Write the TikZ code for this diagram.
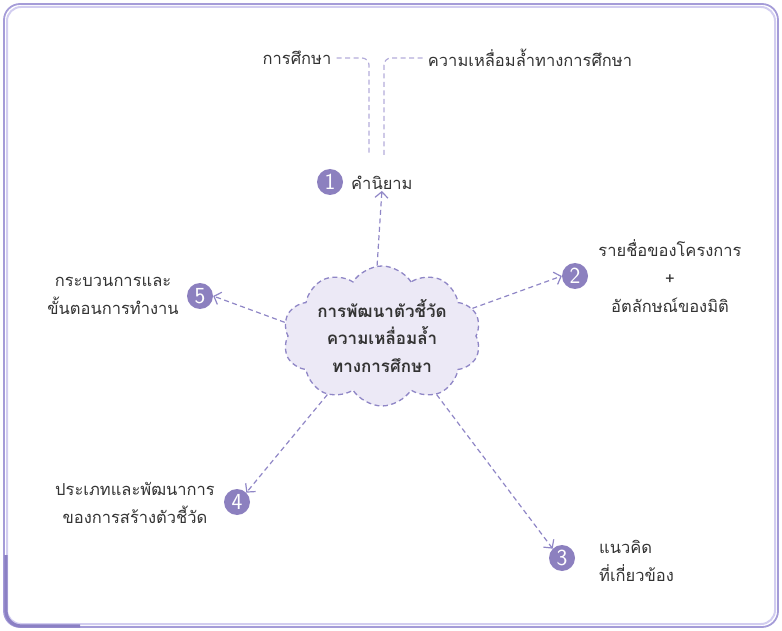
\documentclass[tikz,border=0pt]{standalone}
\usepackage{fontspec}
\newfontfamily\thaifont[Script=Thai]{Loma}
\usetikzlibrary{shapes.symbols,arrows.meta}
\definecolor{frameout}{HTML}{A59CD8}
\definecolor{framein}{HTML}{D2CDF0}
\definecolor{framedark}{HTML}{8B80C4}
\definecolor{numfill}{HTML}{8C80BF}
\definecolor{dashpurple}{HTML}{8F86C6}
\definecolor{guidepurple}{HTML}{B3ACDA}
\definecolor{cloudfill}{HTML}{ECE9F6}
\definecolor{textgray}{HTML}{333333}

\tikzset{
  num/.style={circle, fill=numfill, text=white, inner sep=0pt, minimum size=26pt,
    font=\sffamily\fontsize{23}{23}\selectfont},
  lbl/.style={text=textgray, font=\thaifont\fontsize{16.5}{28}\selectfont, align=center, inner sep=1pt},
  link/.style={draw=dashpurple, dash pattern=on 5pt off 3.5pt, line width=1.2pt,
    -{Straight Barb[length=6pt,width=13pt]}},
  guide/.style={draw=guidepurple, dash pattern=on 5pt off 3.5pt, line width=1.2pt, rounded corners=7pt}
}

\begin{document}
\begin{tikzpicture}[x=1pt, y=-1pt]
\useasboundingbox (0,0) rectangle (782,631);
% frame
\draw[frameout, line width=1.8pt, rounded corners=16pt] (4,4) rectangle (778,627);
\draw[framein, line width=2pt, rounded corners=14pt] (7,7) rectangle (775,624);
\draw[framedark, line width=3.2pt, rounded corners=15pt] (6,555) -- (6,626) -- (80,626);

% centre
\node[cloud, cloud puffs=10, cloud puff arc=115, aspect=1.5, draw=dashpurple,
  dash pattern=on 5pt off 3.5pt, line width=1.3pt, fill=cloudfill, inner sep=-6pt,
  minimum width=198pt, minimum height=140pt, text=textgray, align=center,
  font=\thaifont\bfseries\fontsize{17}{27.5}\selectfont]
  (core) at (382,336) {การพัฒนาตัวชี้วัด\\ความเหลื่อมล้ำ\\ทางการศึกษา};

% 1
\node[num] (n1) at (330,182) {1};
\node[lbl, anchor=west] (t1) at (350,183) {คำนิยาม};
\node[lbl] (topL) at (297,58) {การศึกษา};
\node[lbl] (topR) at (530,58) {ความเหลื่อมล้ำทางการศึกษา};
\coordinate (gl) at (369,155);
\coordinate (gr) at (384,155);
\draw[guide] (topL.east) ++(4,0) -| (gl);
\draw[guide] (topR.west) ++(-4,0) -| (gr);

% 2
\node[num] (n2) at (575,276) {2};
\node[lbl] (t2) at (670,276) {รายชื่อของโครงการ\\+\\อัตลักษณ์ของมิติ};

% 3
\node[num] (n3) at (562,558) {3};
\node[lbl, align=left, anchor=west] (t3) at (598,561) {แนวคิด\\ที่เกี่ยวข้อง};

% 4
\node[num] (n4) at (237,502) {4};
\node[lbl] (t4) at (135,503) {ประเภทและพัฒนาการ\\ของการสร้างตัวชี้วัด};

% 5
\node[num] (n5) at (200,296) {5};
\node[lbl] (t5) at (113,296) {กระบวนการและ\\ขั้นตอนการทำงาน};

% links
\draw[link] (core.94) -- (t1.south);
\draw[link] (core.17) -- (n2.west);
\draw[link] (core.313) -- (n3.north west);
\draw[link] (core.227) -- (n4.north east);
\draw[link] (core.172) -- (n5.east);
\end{tikzpicture}
\end{document}
